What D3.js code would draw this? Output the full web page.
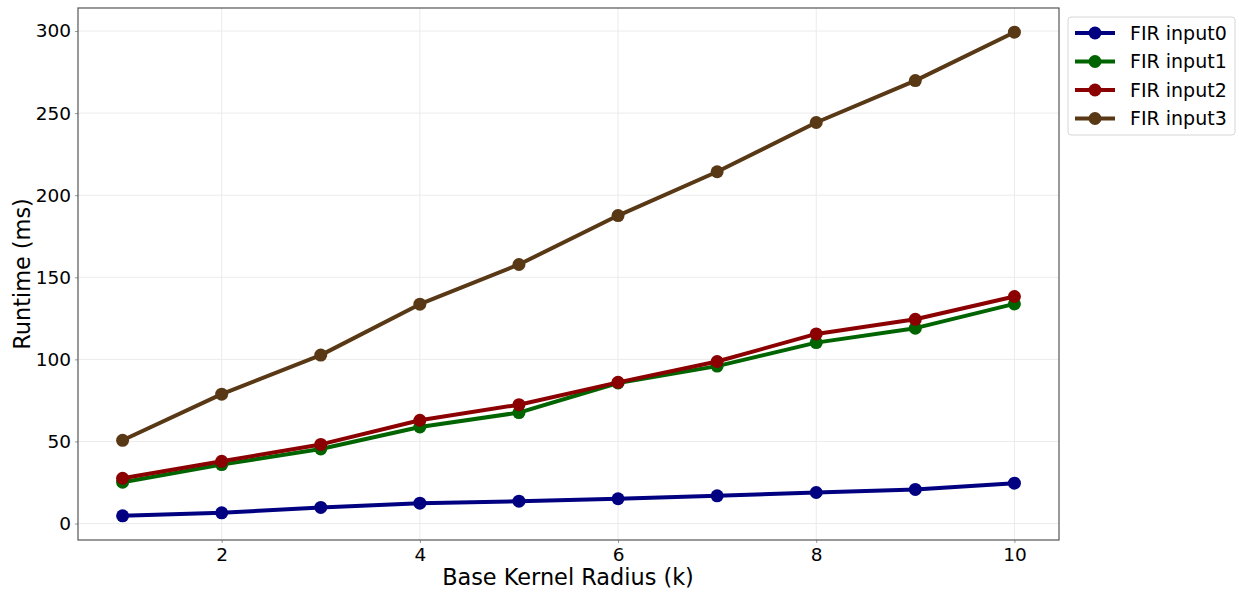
<!DOCTYPE html>
<html>
<head>
<meta charset="utf-8">
<script src="https://cdn.jsdelivr.net/npm/d3@7"></script>
<style>
  body { margin: 0; background: #fff; }
  svg { font-family: "DejaVu Sans", sans-serif; }
</style>
</head>
<body>
<svg id="chart"></svg>
<script>
// X-Axis: base kernel radius, Y-Axis: runtime (ms)
const radius = [1, 2, 3, 4, 5, 6, 7, 8, 9, 10];
const input0 = [4.7, 6.5, 9.8, 12.4, 13.6, 15.1, 16.9, 18.9, 20.8, 24.6];
const input1 = [25.2, 35.9, 45.4, 58.8, 67.6, 85.6, 95.9, 110.2, 119.0, 133.8];
const input2 = [27.6, 37.9, 48.2, 62.9, 72.4, 86.0, 98.7, 115.5, 124.4, 138.3];
const input3 = [50.7, 78.8, 102.6, 133.6, 157.8, 187.6, 214.3, 244.3, 269.8, 299.3];
const seriesNames = ['FIR input0', 'FIR input1', 'FIR input2', 'FIR input3'];
const seriesColors = ['#000080', '#006400', '#8b0000', '#583815'];
const xTicks = [2, 4, 6, 8, 10];
const yTicks = [0, 50, 100, 150, 200, 250, 300];

const config = {
  containerWidth: 1239,
  containerHeight: 593,
  margin: { top: 8, right: 180, bottom: 53, left: 78 },
};

const width = config.containerWidth - config.margin.left - config.margin.right;
const height = config.containerHeight - config.margin.top - config.margin.bottom;

const allSeries = [input0, input1, input2, input3].map((vals, i) => ({
  name: seriesNames[i],
  color: seriesColors[i],
  values: vals.map((v, j) => ({ k: radius[j], v })),
}));

// matplotlib-style 5% padding on both axes
const xPad = (d3.max(radius) - d3.min(radius)) * 0.05;
const yMin = d3.min(input0);
const yMax = d3.max(input3);
const yPad = (yMax - yMin) * 0.05;

const xScale = d3.scaleLinear()
  .domain([d3.min(radius) - xPad, d3.max(radius) + xPad])
  .range([0, width]);

const yScale = d3.scaleLinear()
  .domain([yMin - yPad, yMax + yPad])
  .range([height, 0]);

const svg = d3.select('#chart')
  .attr('width', config.containerWidth)
  .attr('height', config.containerHeight);

const chart = svg.append('g')
  .attr('transform', `translate(${config.margin.left},${config.margin.top})`);

// Gridlines
chart.append('g')
  .selectAll('line.gx')
  .data(xTicks)
  .join('line')
  .attr('x1', (d) => xScale(d))
  .attr('x2', (d) => xScale(d))
  .attr('y1', 0)
  .attr('y2', height)
  .attr('stroke', '#ebebeb')
  .attr('stroke-width', 1);

chart.append('g')
  .selectAll('line.gy')
  .data(yTicks)
  .join('line')
  .attr('x1', 0)
  .attr('x2', width)
  .attr('y1', (d) => yScale(d))
  .attr('y2', (d) => yScale(d))
  .attr('stroke', '#ebebeb')
  .attr('stroke-width', 1);

// Axes with short grey ticks
const xAxis = d3.axisBottom(xScale)
  .tickValues(xTicks)
  .tickSize(3)
  .tickPadding(5)
  .tickFormat(d3.format('d'));

const yAxis = d3.axisLeft(yScale)
  .tickValues(yTicks)
  .tickSize(3)
  .tickPadding(4)
  .tickFormat(d3.format('d'));

const xAxisG = chart.append('g')
  .attr('transform', `translate(0,${height})`)
  .call(xAxis);
const yAxisG = chart.append('g').call(yAxis);

[xAxisG, yAxisG].forEach((g) => {
  g.select('.domain').remove();
  g.selectAll('.tick line').attr('stroke', '#999');
  g.selectAll('text')
    .attr('font-size', 18.5)
    .attr('font-family', '"DejaVu Sans", sans-serif')
    .attr('fill', '#000');
});

// Frame
chart.append('rect')
  .attr('x', 0)
  .attr('y', 0)
  .attr('width', width)
  .attr('height', height)
  .attr('fill', 'none')
  .attr('stroke', '#555')
  .attr('stroke-width', 1.2);

// Lines and markers
const line = d3.line()
  .x((d) => xScale(d.k))
  .y((d) => yScale(d.v));

const marks = chart.append('g');

allSeries.forEach((s) => {
  marks.append('path')
    .datum(s.values)
    .attr('fill', 'none')
    .attr('stroke', s.color)
    .attr('stroke-width', 4)
    .attr('stroke-linejoin', 'round')
    .attr('d', line);

  marks.selectAll(null)
    .data(s.values)
    .join('circle')
    .attr('cx', (d) => xScale(d.k))
    .attr('cy', (d) => yScale(d.v))
    .attr('r', 6.5)
    .attr('fill', s.color);
});

// Axis titles
svg.append('text')
  .attr('x', 568)
  .attr('y', 585)
  .attr('text-anchor', 'middle')
  .attr('font-size', 22.4)
  .text('Base Kernel Radius (k)');

svg.append('text')
  .attr('transform', `translate(30,${config.margin.top + height / 2}) rotate(-90)`)
  .attr('text-anchor', 'middle')
  .attr('font-size', 22.4)
  .text('Runtime (ms)');

// Legend
const legend = svg.append('g')
  .attr('transform', 'translate(1068,17)');

legend.append('rect')
  .attr('width', 167)
  .attr('height', 118)
  .attr('rx', 3)
  .attr('fill', '#fff')
  .attr('stroke', '#d6d6d6');

const items = legend.selectAll('g.item')
  .data(allSeries)
  .join('g')
  .attr('transform', (d, i) => `translate(0,${16 + i * 28.5})`);

items.append('line')
  .attr('x1', 7)
  .attr('x2', 47)
  .attr('stroke', (d) => d.color)
  .attr('stroke-width', 4);

items.append('circle')
  .attr('cx', 27)
  .attr('r', 6.5)
  .attr('fill', (d) => d.color);

items.append('text')
  .attr('x', 62)
  .attr('dy', '0.35em')
  .attr('font-size', 19)
  .text((d) => d.name);
</script>
</body>
</html>
